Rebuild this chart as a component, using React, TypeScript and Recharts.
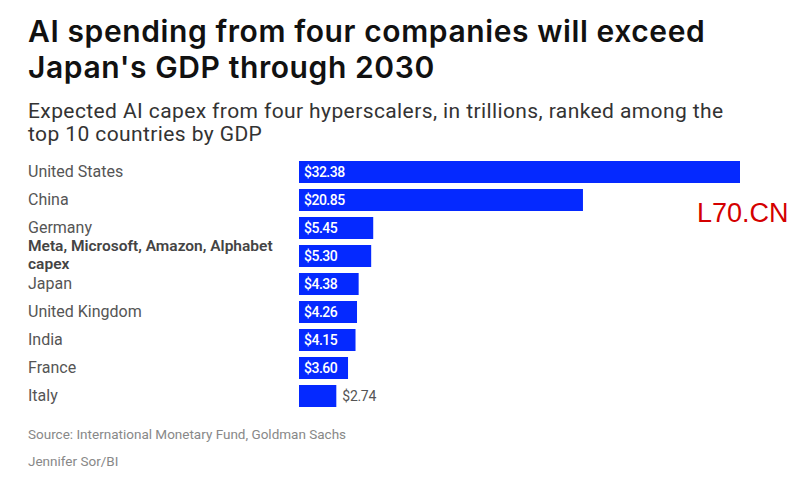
import { BarChart, Bar, XAxis, YAxis, LabelList } from "recharts";

const categories = [
  "United States",
  "China",
  "Germany",
  "Meta, Microsoft, Amazon, Alphabet capex",
  "Japan",
  "United Kingdom",
  "India",
  "France",
  "Italy",
];

const values = [32.38, 20.85, 5.45, 5.3, 4.38, 4.26, 4.15, 3.6, 2.74];

const highlighted = "Meta, Microsoft, Amazon, Alphabet capex";

const titleLines = ["AI spending from four companies will exceed", "Japan's GDP through 2030"];
const subtitleLines = [
  "Expected AI capex from four hyperscalers, in trillions, ranked among the",
  "top 10 countries by GDP",
];

const data = categories.map((name, i) => ({ name, value: values[i] }));

const BLUE = "#0529ff";
const FONT = "Roboto, 'Noto Sans', sans-serif";

function CategoryTick(props: any) {
  const { y, payload } = props;
  const label: string = payload.value;
  if (label === highlighted) {
    return (
      <text x={28} y={y} fontSize={15.5} fontWeight={600} fill="#444" fontFamily={FONT}>
        <tspan x={28} dy={-5}>Meta, Microsoft, Amazon, Alphabet</tspan>
        <tspan x={28} dy={18}>capex</tspan>
      </text>
    );
  }
  return (
    <text x={28} y={y} dy={5} fontSize={16} fill="#555" fontFamily={FONT}>
      {label}
    </text>
  );
}

function ValueLabel(props: any) {
  const { x, y, width, height, value } = props;
  const text = `$${Number(value).toFixed(2)}`;
  const cy = y + height / 2 + 5;
  if (value < 3) {
    return (
      <text x={x + width + 6} y={cy} fontSize={14} fill="#555" fontFamily={FONT} letterSpacing={-0.3}>
        {text}
      </text>
    );
  }
  return (
    <text x={x + 5} y={cy} fontSize={14} fill="#fff" fontWeight={500} fontFamily={FONT} letterSpacing={-0.5}>
      {text}
    </text>
  );
}

export default function App() {
  return (
    <div
      style={{
        position: "absolute",
        left: 0,
        top: 0,
        width: 792,
        height: 483,
        background: "#fff",
        fontFamily: FONT,
      }}
    >
      {titleLines.map((line, i) => (
        <div
          key={line}
          style={{
            position: "absolute",
            left: 28,
            top: 13 + i * 36,
            height: 36,
            fontFamily: "Inter, Roboto, sans-serif",
            fontSize: 30,
            fontWeight: 600,
            lineHeight: "36px",
            letterSpacing: 0.6,
            color: "#111",
            whiteSpace: "nowrap",
          }}
        >
          {line}
        </div>
      ))}
      {subtitleLines.map((line, i) => (
        <div
          key={line}
          style={{
            position: "absolute",
            left: 28,
            top: 100 + i * 23,
            height: 23,
            fontSize: 21,
            lineHeight: "23px",
            letterSpacing: 0.4,
            color: "#333",
            whiteSpace: "nowrap",
          }}
        >
          {line}
        </div>
      ))}

      <div style={{ position: "absolute", left: 0, top: 158 }}>
        <BarChart
          width={792}
          height={252}
          data={data}
          layout="vertical"
          margin={{ top: 0, right: 52, bottom: 0, left: 28 }}
          barCategoryGap={3}
        >
          <XAxis type="number" hide domain={[0, "dataMax"]} />
          <YAxis
            type="category"
            dataKey="name"
            width={271}
            axisLine={false}
            tickLine={false}
            tick={<CategoryTick />}
            interval={0}
          />
          <Bar dataKey="value" fill={BLUE} barSize={22} isAnimationActive={false}>
            <LabelList dataKey="value" content={<ValueLabel />} />
          </Bar>
        </BarChart>
      </div>

      <div
        style={{
          position: "absolute",
          left: 697,
          top: 198,
          fontSize: 27,
          lineHeight: "30px",
          color: "#d40000",
          fontFamily: "'Liberation Sans', Arial, sans-serif",
        }}
      >
        L70.CN
      </div>

      <div style={{ position: "absolute", left: 28, top: 426, fontSize: 13.5, lineHeight: "16px", color: "#888" }}>
        Source: International Monetary Fund, Goldman Sachs
      </div>
      <div style={{ position: "absolute", left: 28, top: 453, fontSize: 13.5, lineHeight: "16px", color: "#888" }}>
        Jennifer Sor/BI
      </div>
    </div>
  );
}
